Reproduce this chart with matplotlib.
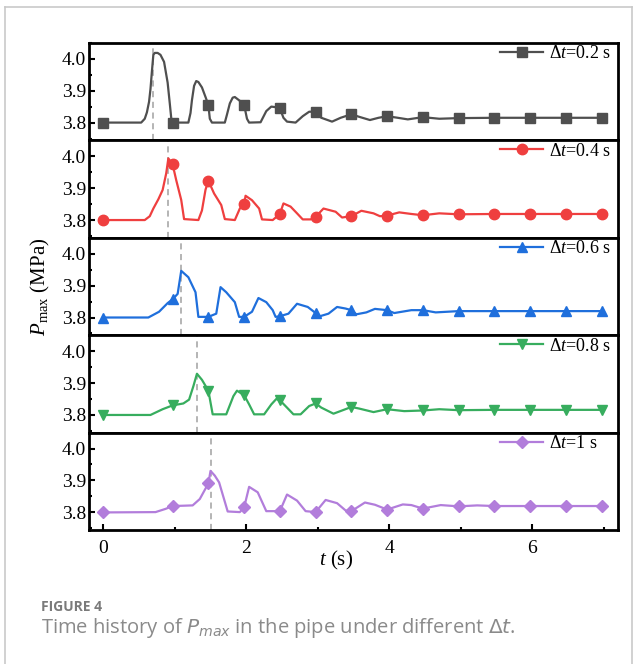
import matplotlib
matplotlib.use("Agg")
import matplotlib.pyplot as plt
from matplotlib.lines import Line2D

# P_max (MPa) vs t (s), one pair of lists per delta-t panel
T_02 = [0.0, 0.53, 0.58, 0.61, 0.64, 0.66, 0.68, 0.70, 0.72, 0.76, 0.80, 0.85, 0.90,
        0.93, 0.95, 0.97, 1.19, 1.22, 1.24, 1.27, 1.30, 1.33, 1.38, 1.43, 1.47, 1.49,
        1.52, 1.70, 1.73, 1.77, 1.81, 1.84, 1.91, 1.97, 2.01, 2.04, 2.20, 2.28, 2.35,
        2.42, 2.47, 2.52, 2.57, 2.69, 2.79, 2.88, 2.97, 3.05, 3.20, 3.32, 3.47, 3.58,
        3.73, 3.85, 3.97, 4.12, 4.26, 4.47, 4.70, 4.97, 5.47, 5.97, 6.47, 6.97]
P_02 = [3.800, 3.800, 3.812, 3.832, 3.865, 3.905, 3.960, 4.012, 4.018, 4.018, 4.012,
        3.990, 3.925, 3.860, 3.815, 3.800, 3.800, 3.830, 3.870, 3.915, 3.930, 3.927,
        3.910, 3.880, 3.855, 3.812, 3.800, 3.800, 3.825, 3.860, 3.878, 3.880, 3.868,
        3.855, 3.812, 3.800, 3.801, 3.836, 3.850, 3.848, 3.845, 3.815, 3.803, 3.800,
        3.820, 3.834, 3.834, 3.815, 3.803, 3.815, 3.826, 3.818, 3.808, 3.815, 3.820,
        3.815, 3.810, 3.817, 3.812, 3.814, 3.815, 3.815, 3.815, 3.815]

T_04 = [0.0, 0.58, 0.65, 0.70, 0.77, 0.83, 0.88, 0.91, 0.97, 1.02, 1.09, 1.13, 1.33,
        1.38, 1.43, 1.47, 1.55, 1.65, 1.70, 1.84, 1.91, 1.97, 1.99, 2.08, 2.18, 2.22,
        2.37, 2.47, 2.52, 2.62, 2.71, 2.79, 2.90, 2.97, 3.08, 3.25, 3.34, 3.47, 3.61,
        3.78, 3.87, 3.97, 4.14, 4.31, 4.47, 4.70, 4.97, 5.47, 5.97, 6.47, 6.97]
P_04 = [3.800, 3.800, 3.812, 3.836, 3.865, 3.894, 3.946, 3.993, 3.974, 3.925, 3.863,
        3.803, 3.800, 3.830, 3.895, 3.923, 3.883, 3.847, 3.803, 3.800, 3.836, 3.849,
        3.876, 3.862, 3.836, 3.802, 3.800, 3.819, 3.852, 3.842, 3.821, 3.802, 3.802,
        3.810, 3.836, 3.826, 3.808, 3.812, 3.829, 3.821, 3.812, 3.814, 3.824, 3.819,
        3.815, 3.821, 3.818, 3.819, 3.819, 3.819, 3.819]

T_06 = [0.0, 0.63, 0.78, 0.90, 0.97, 1.04, 1.09, 1.19, 1.29, 1.33, 1.47, 1.58, 1.64,
        1.72, 1.84, 1.90, 1.97, 2.08, 2.17, 2.28, 2.37, 2.41, 2.47, 2.59, 2.71, 2.86,
        2.97, 3.03, 3.15, 3.27, 3.39, 3.47, 3.54, 3.68, 3.80, 3.97, 4.07, 4.31, 4.47,
        4.65, 4.97, 5.47, 5.97, 6.47, 6.97]
P_06 = [3.800, 3.800, 3.818, 3.845, 3.857, 3.874, 3.946, 3.926, 3.879, 3.802, 3.802,
        3.812, 3.895, 3.879, 3.848, 3.802, 3.802, 3.818, 3.861, 3.848, 3.823, 3.802,
        3.804, 3.812, 3.843, 3.833, 3.814, 3.804, 3.812, 3.833, 3.828, 3.823, 3.810,
        3.816, 3.827, 3.823, 3.814, 3.823, 3.823, 3.816, 3.820, 3.820, 3.820, 3.820,
        3.820]

T_08 = [0.0, 0.66, 0.83, 0.97, 1.12, 1.20, 1.26, 1.31, 1.38, 1.47, 1.53, 1.72, 1.82,
        1.87, 1.97, 2.04, 2.11, 2.25, 2.35, 2.42, 2.47, 2.57, 2.66, 2.76, 2.88, 2.97,
        3.05, 3.22, 3.34, 3.47, 3.58, 3.78, 3.97, 4.21, 4.47, 4.70, 4.97, 5.47, 5.97,
        6.47, 6.97]
P_08 = [3.800, 3.800, 3.818, 3.830, 3.836, 3.848, 3.890, 3.929, 3.910, 3.876, 3.802,
        3.802, 3.859, 3.876, 3.862, 3.833, 3.802, 3.802, 3.833, 3.850, 3.846, 3.823,
        3.802, 3.802, 3.828, 3.836, 3.823, 3.804, 3.814, 3.825, 3.820, 3.809, 3.818,
        3.812, 3.814, 3.818, 3.815, 3.816, 3.816, 3.816, 3.816]

T_10 = [0.0, 0.73, 0.87, 0.97, 1.12, 1.25, 1.35, 1.47, 1.50, 1.56, 1.62, 1.74, 1.91,
        1.97, 2.04, 2.16, 2.28, 2.47, 2.57, 2.71, 2.83, 2.97, 3.11, 3.27, 3.39, 3.47,
        3.66, 3.80, 3.97, 4.19, 4.31, 4.47, 4.72, 4.97, 5.23, 5.47, 5.97, 6.47, 6.97]
P_10 = [3.800, 3.801, 3.811, 3.820, 3.821, 3.822, 3.842, 3.891, 3.930, 3.915, 3.894,
        3.803, 3.801, 3.816, 3.880, 3.863, 3.804, 3.804, 3.856, 3.837, 3.804, 3.801,
        3.839, 3.829, 3.806, 3.804, 3.831, 3.824, 3.809, 3.825, 3.823, 3.812, 3.823,
        3.819, 3.822, 3.820, 3.820, 3.820, 3.820]

MARK_T = [0.0, 0.97, 1.47, 1.97, 2.47, 2.97, 3.47, 3.97, 4.47, 4.97, 5.47, 5.97, 6.47, 6.97]
PEAK_T = [0.70, 0.91, 1.09, 1.31, 1.50]
DT_LABELS = ["0.2", "0.4", "0.6", "0.8", "1"]

SERIES = [(T_02, P_02), (T_04, P_04), (T_06, P_06), (T_08, P_08), (T_10, P_10)]
COLORS = ["#4f4f4f", "#ef3f3f", "#1f6fdc", "#37ad5e", "#b27ddb"]
MARKERS = ["s", "o", "^", "v", "D"]
MSIZES = [7, 7.5, 7.5, 7.5, 6.5]

plt.rcParams["font.family"] = ["Liberation Serif", "DejaVu Serif"]
plt.rcParams["mathtext.fontset"] = "custom"
plt.rcParams["mathtext.rm"] = "Liberation Serif"
plt.rcParams["mathtext.it"] = "Liberation Serif:italic"

W, H = 638, 664
fig = plt.figure(figsize=(W / 100, H / 100), dpi=100)

# light grey frame round the whole figure + caption
fig.add_artist(Line2D([4.5 / W, 4.5 / W], [0, 1 - 7 / H], color="#c9c9c9", lw=1.2))
fig.add_artist(Line2D([4.5 / W, 631.5 / W], [1 - 7 / H, 1 - 7 / H], color="#c9c9c9", lw=1.2))
fig.add_artist(Line2D([631.5 / W, 631.5 / W], [0, 1 - 7 / H], color="#c9c9c9", lw=1.2))

left, right, top, bottom = 89, 618, 42.7, 530
ph = (bottom - top) / 5

for i, ((t, p), c, m, ms, lab, tp) in enumerate(
        zip(SERIES, COLORS, MARKERS, MSIZES, DT_LABELS, PEAK_T)):
    y0 = 1 - (top + ph * (i + 1)) / H
    ax = fig.add_axes([left / W, y0, (right - left) / W, ph / H])
    idx = [k for k, tt in enumerate(t) if any(abs(tt - mt) < 1e-9 for mt in MARK_T)]
    ax.axvline(tp, color="#a0a0a0", lw=1.1, ls=(0, (4, 3)), zorder=1)
    ax.plot(t, p, color=c, lw=1.6, marker=m, ms=ms, markevery=idx,
            label=rf"$\Delta t$=${lab}$ s", zorder=3)
    ax.set_xlim(-0.2, 7.2)
    ax.set_ylim(3.745, 4.05)
    ax.set_yticks([3.8, 3.9, 4.0])
    ax.set_yticks([3.75, 3.85, 3.95, 4.05], minor=True)
    ax.set_xticks([0, 2, 4, 6])
    ax.set_xticks([1, 3, 5, 7], minor=True)
    ax.tick_params(direction="in", which="major", length=4.5, width=1.5, labelsize=14,
                   pad=2, top=False, right=False)
    ax.tick_params(direction="in", which="minor", length=2.5, width=1.5,
                   top=False, right=False)
    ax.tick_params(axis="x", which="major", pad=7)
    if i < 4:
        ax.tick_params(axis="x", which="both", labelbottom=False, bottom=False)
    for s in ax.spines.values():
        s.set_linewidth(2.0)
    ax.legend(loc="upper left", bbox_to_anchor=(0.777, 0.975), frameon=False,
              fontsize=13, handlelength=2.4, handletextpad=0.3, borderpad=0,
              borderaxespad=0)

fig.text(336 / W, 1 - 560 / H, r"$t$ (s)", ha="center", va="center", fontsize=15)
fig.text(40 / W, 1 - 287 / H, r"$P$$_{\rm max}$ (MPa)", ha="center", va="center",
         rotation=90, fontsize=15)

fig.text(41 / W, 1 - 607 / H, "FIGURE 4", ha="left", va="center", fontsize=10,
         color="#7a7a7a", family="Open Sans", weight="bold")
fig.text(41 / W, 1 - 628 / H, r"Time history of $P_{max}$ in the pipe under different $\Delta t$.",
         ha="left", va="center", fontsize=14.5, color="#8a8a8a", family="Open Sans",
         math_fontfamily="dejavusans")

fig.savefig("out.png", dpi=100)
